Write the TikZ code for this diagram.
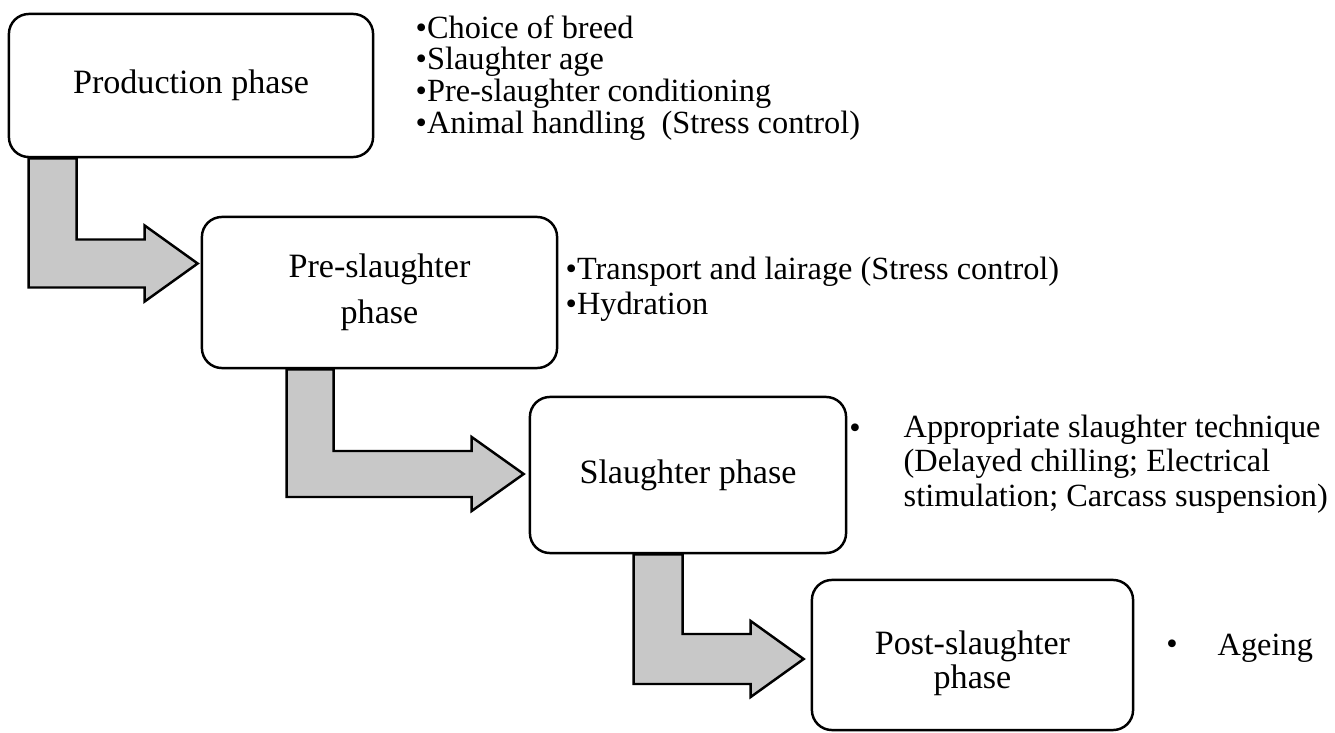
\documentclass[tikz,border=0pt]{standalone}
\usepackage{fontspec}
\setmainfont{Liberation Serif}
\usetikzlibrary{calc}

\definecolor{arrowgray}{RGB}{200,200,200}

\tikzset{
  phasebox/.style={draw, line width=0.7pt, rounded corners=0.2cm, fill=white,
    align=center, inner sep=0pt, font=\fontsize{9.7pt}{12pt}\selectfont},
  phasearrow/.style={draw, line width=0.7pt, fill=arrowgray},
  itemlist/.style={align=left, anchor=base west, inner sep=0pt},
  dot/.style={anchor=base, inner sep=0pt, font=\fontsize{9.2pt}{10pt}\selectfont}
}

\begin{document}
\begin{tikzpicture}[x=0.01cm, y=-0.01cm]

\useasboundingbox (0,0) rectangle (1335,733);

% boxes

\node[phasebox, minimum width=3.64cm, minimum height=1.43cm] (prod) at (191,85.5) {Production phase};
\node[phasebox, minimum width=3.55cm, minimum height=1.51cm,
  font=\fontsize{9.7pt}{13.1pt}\selectfont] (pre) at (379.5,292.5) {Pre-slaughter\\phase};
\node[phasebox, minimum width=3.16cm, minimum height=1.56cm] (slau) at (688,475) {Slaughter phase};
\node[phasebox, minimum width=3.21cm, minimum height=1.50cm, text height=21pt,
  font=\fontsize{9.7pt}{9.6pt}\selectfont] (post) at (972.5,655) {Post-slaughter\\phase};

% arrows
    % 1
\coordinate (a1) at ($(prod.south west)+(21,0)$);
\coordinate (t1) at ($(pre.west)+(-3,-29)$);
\draw[phasearrow] (a1) -- ($(a1|-t1)+(0,24)$) -- ($(t1)+(-53,24)$) -- ($(t1)+(-53,38)$) -- (t1)
  -- ($(t1)+(-53,-38)$) -- ($(t1)+(-53,-24)$) -- ($(a1|-t1)+(48,-24)$) -- ($(a1)+(48,0)$) -- cycle;

    % 2
\coordinate (a2) at ($(pre.south west)+(86,0)$);
\coordinate (t2) at ($(slau.west)+(-5,-1)$);
\draw[phasearrow] (a2) -- ($(a2|-t2)+(0,23)$) -- ($(t2)+(-52,23)$) -- ($(t2)+(-52,37)$) -- (t2)
  -- ($(t2)+(-52,-37)$) -- ($(t2)+(-52,-23)$) -- ($(a2|-t2)+(47,-23)$) -- ($(a2)+(47,0)$) -- cycle;

    % 3
\coordinate (a3) at ($(slau.south west)+(105,0)$);
\coordinate (t3) at ($(post.west)+(-7,4)$);
\draw[phasearrow] (a3) -- ($(a3|-t3)+(0,25)$) -- ($(t3)+(-53,25)$) -- ($(t3)+(-53,38)$) -- (t3)
  -- ($(t3)+(-53,-38)$) -- ($(t3)+(-53,-25)$) -- ($(a3|-t3)+(49,-25)$) -- ($(a3)+(49,0)$) -- cycle;

% lists (base = last line)

\node[itemlist, font=\fontsize{9.2pt}{9pt}\selectfont] (prodlist) at (415,133)
  {•Choice of breed\\•Slaughter age\\•Pre-slaughter conditioning\\•Animal handling~ (Stress control)};

\node[itemlist, font=\fontsize{9.2pt}{10pt}\selectfont] (prelist) at (565,314.5)
  {•Transport and lairage (Stress control)\\•Hydration};

\node[dot] (slaudot) at (855,438) {•};
\node[itemlist, font=\fontsize{9.2pt}{9.7pt}\selectfont] (slaulist) at (903,506)
  {Appropriate slaughter technique\\(Delayed chilling; Electrical\\stimulation; Carcass suspension)};

\node[dot] (postdot) at (1172,654) {•};
\node[itemlist, font=\fontsize{9.2pt}{10pt}\selectfont] (postlist) at (1217,655) {Ageing};

\end{tikzpicture}
\end{document}
